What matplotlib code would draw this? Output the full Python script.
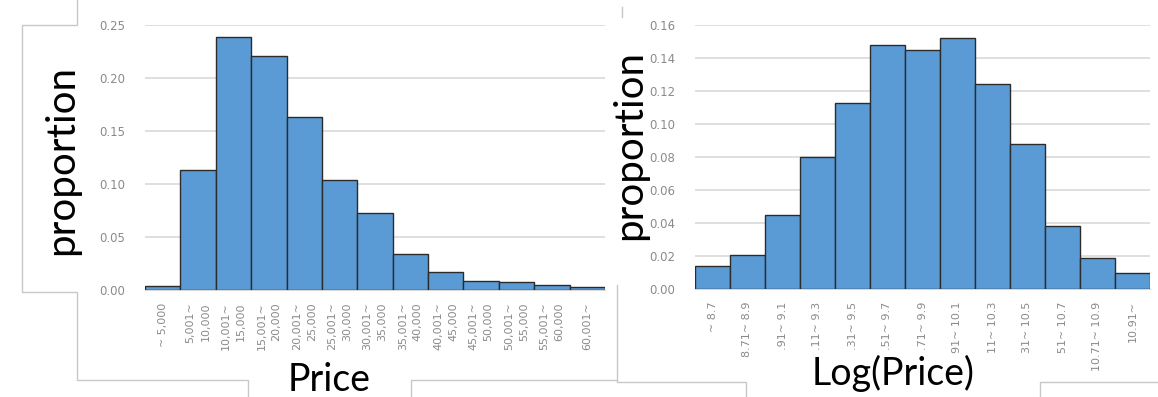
import matplotlib.pyplot as plt
from matplotlib.lines import Line2D

# left: price histogram
price_bins = ['~ 5,000', '5,001~\n10,000', '10,001~\n15,000', '15,001~\n20,000',
              '20,001~\n25,000', '25,001~\n30,000', '30,001~\n35,000', '35,001~\n40,000',
              '40,001~\n45,000', '45,001~\n50,000', '50,001~\n55,000', '55,001~\n60,000',
              '60,001~']
price_prop = [0.004, 0.113, 0.239, 0.221, 0.163, 0.104, 0.073, 0.034,
              0.017, 0.0085, 0.0075, 0.005, 0.003]

# right: log price histogram (labels clipped as in the source)
log_bins = ['~ 8.7', '8.71~ 8.9', '.91~ 9.1', '.11~ 9.3', '.31~ 9.5', '.51~ 9.7',
            '.71~ 9.9', '91~ 10.1', '11~ 10.3', '31~ 10.5', '51~ 10.7',
            '10.71~ 10.9', '10.91~']
log_prop = [0.014, 0.0205, 0.045, 0.080, 0.113, 0.148, 0.145, 0.152,
            0.124, 0.088, 0.038, 0.019, 0.010]

BAR = '#5b9bd5'
EDGE = '#2b2b2b'
GRID = '#d9d9d9'
TICK = '#8a8a8a'
FONT = 'Lato'


def draw_hist(ax, labels, values, ymax, ystep, xlabel):
    x = range(len(values))
    ax.bar(x, values, width=1.0, color=BAR, edgecolor=EDGE, linewidth=1.0, zorder=3)
    ax.set_xlim(-0.5, len(values) - 0.5)
    ax.set_ylim(0, ymax)
    ticks = [i * ystep for i in range(int(round(ymax / ystep)) + 1)]
    ax.set_yticks(ticks)
    ax.set_yticklabels(['%.2f' % t for t in ticks], color=TICK, fontsize=8.5)
    ax.yaxis.grid(True, color=GRID, linewidth=1.2, zorder=0)
    ax.set_xticks(list(x))
    ax.set_xticklabels(labels, rotation=90, color=TICK, fontsize=8,
                       va='top', ha='center', multialignment='right', linespacing=1.6)
    ax.tick_params(length=0, pad=14, axis='y')
    ax.tick_params(length=0, pad=9, axis='x')
    for s in ['top', 'right', 'left']:
        ax.spines[s].set_visible(False)
    ax.spines['bottom'].set_color(GRID)
    ax.set_ylabel('proportion', fontsize=29, family=FONT)
    ax.set_xlabel(xlabel, fontsize=27, family=FONT)


fig = plt.figure(figsize=(11.58, 3.97), dpi=100)

ax1 = fig.add_axes([145 / 1158, 1 - 290 / 397, 460 / 1158, 265 / 397])
draw_hist(ax1, price_bins, price_prop, 0.25, 0.05, 'Price')
ax1.yaxis.set_label_coords(-0.141, 0.49)
ax1.xaxis.set_label_coords(0.40, -0.27)

ax2 = fig.add_axes([695 / 1158, 1 - 289 / 397, 455 / 1158, 264 / 397])
draw_hist(ax2, log_bins, log_prop, 0.16, 0.02, 'Log(Price)')
ax2.yaxis.set_label_coords(-0.103, 0.545)
ax2.xaxis.set_label_coords(0.435, -0.25)

# frame lines left over from the screenshot composition
W, H = 1158, 397
segments = [
    [(77, 0), (77, 25), (22, 25), (22, 292), (77, 292), (77, 380), (248, 380), (248, 397)],
    [(411, 397), (411, 380), (617, 380)],
    [(617, 285), (617, 382), (746, 382), (746, 397)],
    [(1040, 397), (1040, 382), (1158, 382)],
    [(622, 7), (622, 17)],
]
for seg in segments:
    xs = [p[0] / W for p in seg]
    ys = [1 - p[1] / H for p in seg]
    fig.add_artist(Line2D(xs, ys, color='#c8c8c8', linewidth=1.0, transform=fig.transFigure))

fig.savefig('out.png', dpi=100)
